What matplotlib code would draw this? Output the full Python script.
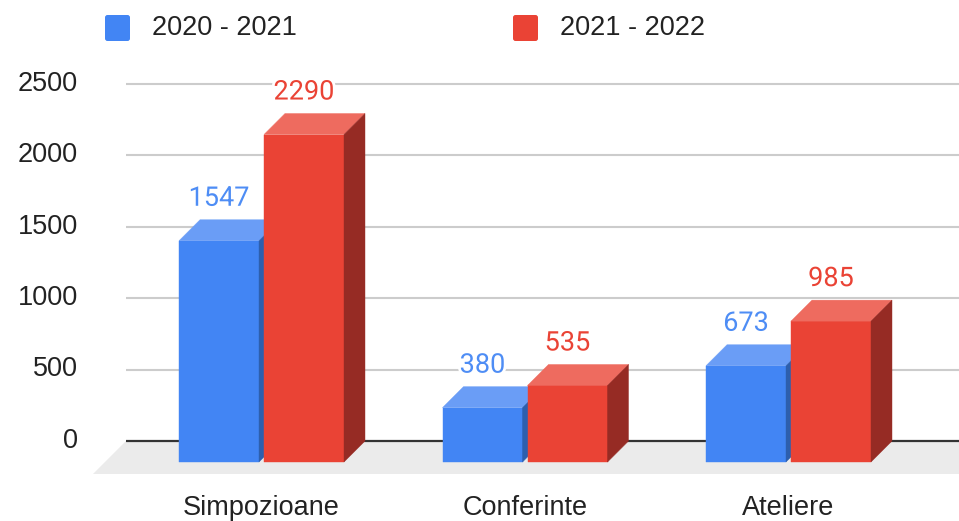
import matplotlib
matplotlib.use("Agg")
import matplotlib.pyplot as plt
from matplotlib.patches import Polygon, FancyBboxPatch
import matplotlib.patheffects as pe

categories = ["Simpozioane", "Conferinte", "Ateliere"]
series_names = ["2020 - 2021", "2021 - 2022"]
values_2020 = [1547, 380, 673]
values_2021 = [2290, 535, 985]
yticks = [0, 500, 1000, 1500, 2000, 2500]

front_colors = ["#4285F4", "#EA4335"]
top_colors = ["#6A9DF6", "#EE6B5F"]
side_colors = ["#2D5FAE", "#962B24"]
label_colors = ["#4E8DF5", "#EA4335"]

W, H = 959, 521
fig = plt.figure(figsize=(W / 100, H / 100), dpi=100)
ax = fig.add_axes([0, 0, 1, 1])
ax.set_axis_off()

# pixel geometry -> data scales
PX_CAT = 263.5            # pixels per category
C0_PX = 282.5             # pixel x of first category (back plane)
Y0_PX = 441.0             # pixel y of zero line
UNIT_PER_PX = 2500 / 357.5
ax.set_xlim(-C0_PX / PX_CAT, (W - C0_PX) / PX_CAT)
ax.set_ylim(-(H - Y0_PX) * UNIT_PER_PX, Y0_PX * UNIT_PER_PX)

def px_x(p):
    return p / PX_CAT

def px_y(p):
    return p * UNIT_PER_PX

DX, DY = px_x(21), px_y(21)
FX, FY = px_x(33), px_y(33)
grid_left = px_x(126 - C0_PX)
xr = ax.get_xlim()[1] + 0.1

# floor
ax.add_patch(Polygon([(grid_left, 0), (xr, 0), (xr, -FY), (grid_left - FX, -FY)],
                     closed=True, facecolor="#EBEBEB", edgecolor="none", zorder=1))

# gridlines and axis line
for t in yticks[1:]:
    ax.plot([grid_left, xr], [t, t], color="#CCCCCC", lw=1.5, zorder=2, solid_capstyle="butt")
ax.plot([grid_left, xr], [0, 0], color="#333333", lw=1.6, zorder=2, solid_capstyle="butt")

tick_font = ["Liberation Sans", "DejaVu Sans"]
for t in yticks:
    ax.text(px_x(78 - C0_PX), t, str(t), ha="right", va="center", fontsize=19.5,
            color="#222222", family=tick_font)

bw = px_x(80)
gap = px_x(2.5)
series = [values_2020, values_2021]

def draw_bar(x0, x1, v, k, z):
    # front face
    ax.add_patch(Polygon([(x0 - DX, -DY), (x1 - DX, -DY), (x1 - DX, v - DY), (x0 - DX, v - DY)],
                         closed=True, facecolor=front_colors[k], edgecolor=front_colors[k], lw=0.3, zorder=z))
    # top face
    ax.add_patch(Polygon([(x0 - DX, v - DY), (x1 - DX, v - DY), (x1, v), (x0, v)],
                         closed=True, facecolor=top_colors[k], edgecolor=top_colors[k], lw=0.3, zorder=z))
    # side face
    ax.add_patch(Polygon([(x1 - DX, -DY), (x1, 0), (x1, v), (x1 - DX, v - DY)],
                         closed=True, facecolor=side_colors[k], edgecolor=side_colors[k], lw=0.3, zorder=z))

for i, cat in enumerate(categories):
    c = i
    for k, vals in enumerate(series):
        v = vals[i]
        if k == 0:
            x0, x1 = c - gap - bw, c - gap
        else:
            x0, x1 = c + gap, c + gap + bw
        draw_bar(x0, x1, v, k, 3 + k)
        ax.text((x0 + x1) / 2 - DX, v + px_y(8), str(v), ha="center", va="bottom",
                fontsize=19.5, color=label_colors[k], family=["Roboto", "DejaVu Sans"], zorder=10,
                path_effects=[pe.withStroke(linewidth=4, foreground="white")])
    ax.text(c - DX, -px_y(74), cat, ha="center", va="baseline", fontsize=19.5,
            color="#222222", family=tick_font)

# legend
for k, name in enumerate(series_names):
    lx = [105, 513][k]
    box = FancyBboxPatch((lx, H - 41), 25, 26, boxstyle="round,pad=0,rounding_size=2.5",
                         transform=None, facecolor=front_colors[k], edgecolor="none")
    fig.patches.append(box)
    fig.text((lx + 47) / W, 1 - 28 / H, name, ha="left", va="center", fontsize=19.5,
             color="#222222", family=tick_font)

fig.savefig("out.png", dpi=100)
